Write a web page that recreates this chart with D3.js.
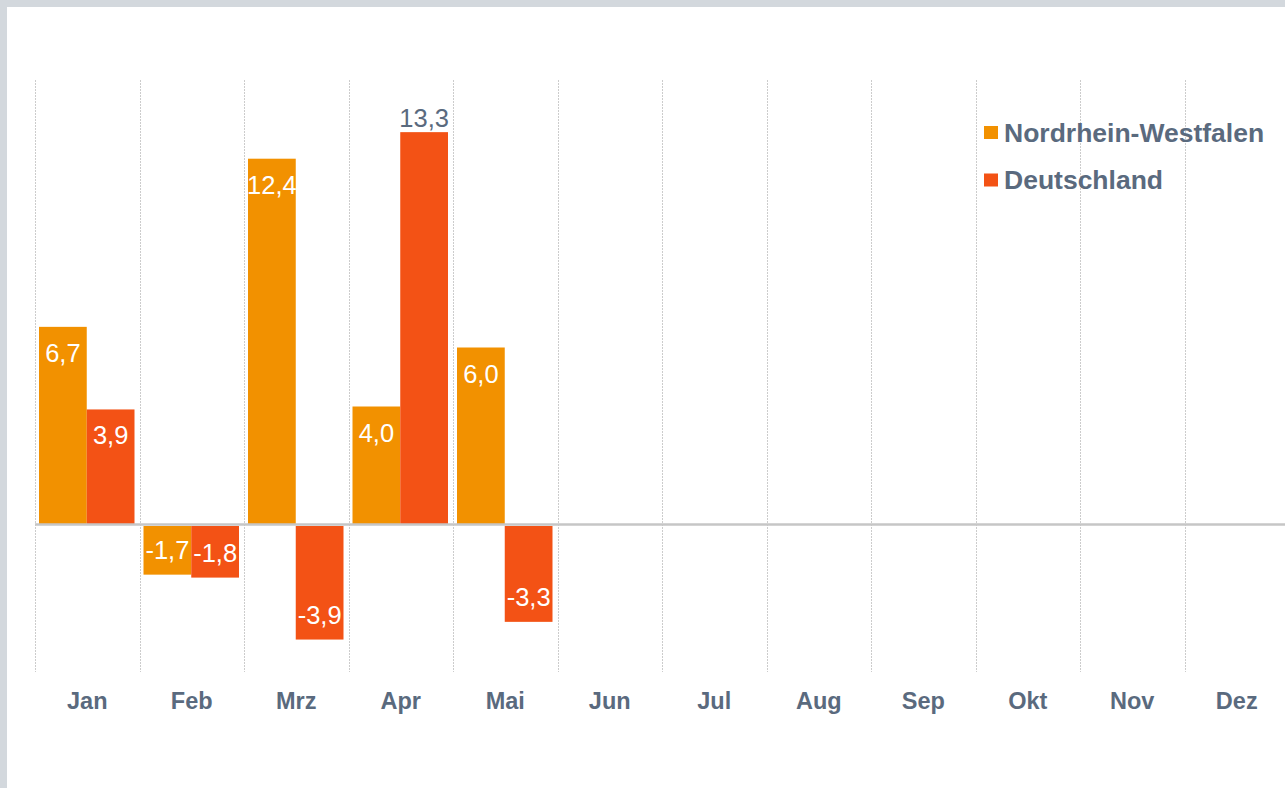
<!DOCTYPE html>
<meta charset="utf-8">
<script src="https://d3js.org/d3.v7.min.js"></script>
<style>
  body { margin: 0; background: #ffffff; }
  svg { display: block; font-family: "Liberation Sans", Arial, sans-serif; }
</style>
<body>
<svg id="chart" width="1285" height="788"></svg>
<script>
// data
var months = ["Jan", "Feb", "Mrz", "Apr", "Mai", "Jun", "Jul", "Aug", "Sep", "Okt", "Nov", "Dez"];
var seriesNames = ["Nordrhein-Westfalen", "Deutschland"];
var nrwValues = [6.7, -1.7, 12.4, 4.0, 6.0, null, null, null, null, null, null, null];
var deValues = [3.9, -1.8, -3.9, 13.3, -3.3, null, null, null, null, null, null, null];
var colors = ["#f29100", "#f35215"];
var textGrey = "#5a6a7e";

var W = 1285, H = 788;
var svg = d3.select("#chart");

// frame (grey edge top / left)
svg.append("rect").attr("width", W).attr("height", H).attr("fill", "#d3d8dd");
svg.append("rect").attr("x", 7).attr("y", 7).attr("width", W).attr("height", H).attr("fill", "#ffffff");

var x0 = d3.scaleBand().domain(months).range([35, 35 + 12 * 104.5]).padding(0);
var x1 = d3.scaleBand().domain(seriesNames).range([4, 99.5]).padding(0);
var y = d3.scaleLinear().domain([-5, 15]).range([672, 82]);

// vertical dotted grid lines at category borders
svg.append("g").selectAll("line")
  .data(months)
  .join("line")
    .attr("x1", d => Math.round(x0(d)) + 0.5)
    .attr("x2", d => Math.round(x0(d)) + 0.5)
    .attr("y1", 80)
    .attr("y2", 672)
    .attr("stroke", "#cccccc")
    .attr("stroke-width", 1)
    .attr("stroke-dasharray", "2,1");

// rows for the bars
var rows = [];
months.forEach(function(m, i) {
  [nrwValues, deValues].forEach(function(arr, s) {
    if (arr[i] != null) rows.push({month: m, series: seriesNames[s], s: s, value: arr[i]});
  });
});

var maxVal = d3.max(rows, d => d.value);
var zero = y(0);

svg.append("g").selectAll("rect")
  .data(rows)
  .join("rect")
    .attr("x", d => x0(d.month) + x1(d.series))
    .attr("width", x1.bandwidth())
    .attr("y", d => d.value >= 0 ? y(d.value) : zero + 1.5)
    .attr("height", d => d.value >= 0 ? zero - y(d.value) : y(d.value) - zero - 1.5)
    .attr("fill", d => colors[d.s]);

// zero line
svg.append("line")
  .attr("x1", 35).attr("x2", W)
  .attr("y1", zero).attr("y2", zero)
  .attr("stroke", "#c6c6c6")
  .attr("stroke-width", 2.5);

// value labels (German decimal comma, plain hyphen for minus)
var de = d3.formatLocale({decimal: ",", thousands: ".", grouping: [3], currency: ["", " €"], minus: "-"});
var fmt = de.format(".1f");
svg.append("g").selectAll("text")
  .data(rows)
  .join("text")
    .attr("x", d => x0(d.month) + x1(d.series) + x1.bandwidth() / 2)
    .attr("y", function(d) {
      if (d.value === maxVal) return y(d.value) - 5;
      return d.value >= 0 ? y(d.value) + 35 : y(d.value) - 16;
    })
    .attr("text-anchor", "middle")
    .attr("font-size", 25.5)
    .attr("fill", d => d.value === maxVal ? textGrey : "#ffffff")
    .text(d => fmt(d.value));

// month labels
var xAxis = svg.append("g")
  .attr("transform", "translate(0,709)")
  .call(d3.axisBottom(x0).tickSize(0).tickPadding(0));
xAxis.select(".domain").remove();
xAxis.selectAll("text")
  .attr("dy", 0)
  .attr("font-size", 23.5)
  .attr("font-weight", "bold")
  .attr("font-family", "Liberation Sans, Arial, sans-serif")
  .attr("fill", textGrey);

// legend
var legend = svg.append("g").selectAll("g")
  .data(seriesNames)
  .join("g")
    .attr("transform", (d, i) => "translate(984," + (126 + i * 47.5) + ")");
legend.append("rect")
  .attr("width", 14).attr("height", 13)
  .attr("fill", (d, i) => colors[i]);
legend.append("text")
  .attr("x", 20).attr("y", 15.5)
  .attr("font-size", 26.5)
  .attr("font-weight", "bold")
  .attr("fill", textGrey)
  .text(d => d);
</script>
</body>
